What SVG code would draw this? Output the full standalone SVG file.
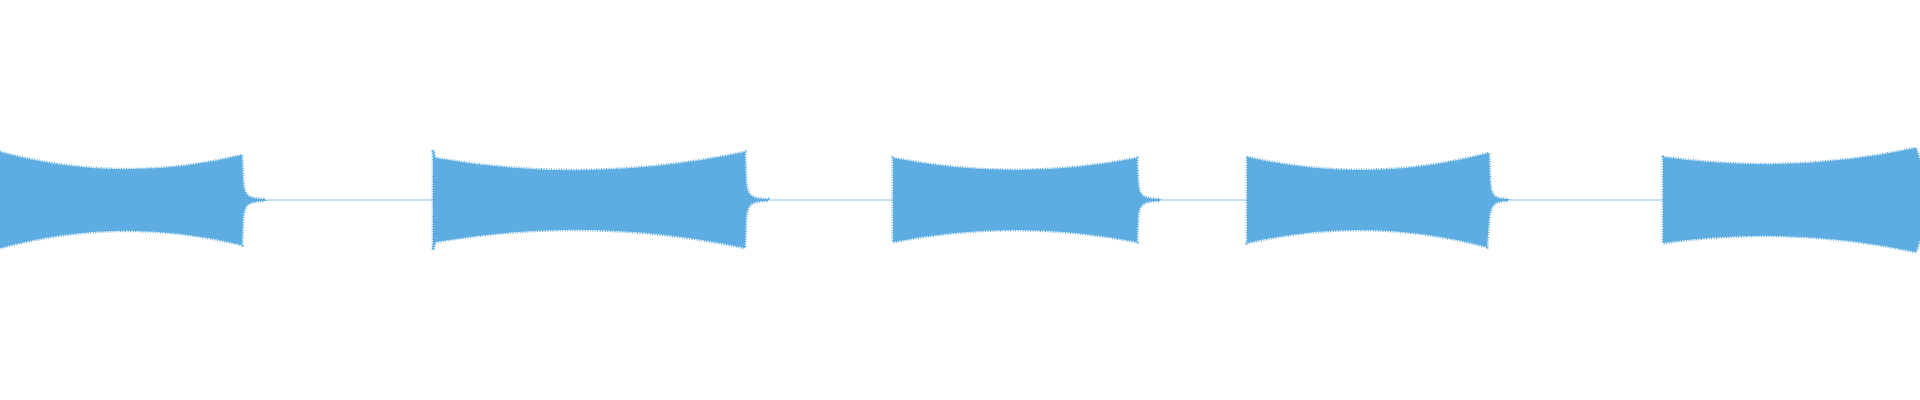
<svg xmlns="http://www.w3.org/2000/svg" width="1920" height="400" viewBox="0 0 1920 400">
<style>
.w{fill:#5dade2;stroke:#5dade2;stroke-width:3;stroke-dasharray:1 1.5}
.b{stroke:#5dade2;stroke-width:1;stroke-opacity:0.7}
</style>
<rect width="1920" height="400" fill="#fff"/>
<line class="b" x1="0" y1="200" x2="1920" y2="200"/>
<path class="w" d="M0,152 Q121,185 242,155 L243,180 C244,196 248,199 265,199 L265,201 C248,201 244,204 243,220 L242,245 Q121,215 0,248 Z"/>
<path class="w" d="M433,150 L435,158 Q589,185 745,152 L746,180 C747,196 751,199 768,199 L768,201 C751,201 747,204 746,220 L745,248 Q589,215 435,242 L433,250 Z"/>
<path class="w" d="M893,158 Q1015,182 1137,158 L1138,182 C1139,196 1143,199 1160,199 L1160,201 C1143,201 1139,204 1138,218 L1137,242 Q1015,218 893,242 Z"/>
<path class="w" d="M1247,157 Q1368,185 1489,153 L1490,180 C1491,196 1494,199 1508,199 L1508,201 C1494,201 1491,204 1489,220 L1487,247 Q1368,215 1247,243 Z"/>
<path class="w" d="M1663,157 Q1790,175 1916,148 L1920,160 L1920,240 L1916,252 Q1790,225 1663,243 Z"/>
</svg>
